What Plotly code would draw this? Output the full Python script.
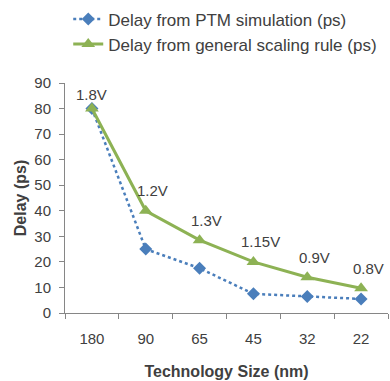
import plotly.graph_objects as go

categories = ["180", "90", "65", "45", "32", "22"]
ptm_delay = [80, 25, 17.5, 7.5, 6.5, 5.5]
scaling_delay = [80, 40, 28.5, 20, 14, 9.7]
voltage_labels = ["1.8V", "1.2V", "1.3V", "1.15V", "0.9V", "0.8V"]
y_ticks = [0, 10, 20, 30, 40, 50, 60, 70, 80, 90]

FONT = "Liberation Sans"
TXT = "#404040"

fig = go.Figure()
fig.add_trace(go.Scatter(
    x=categories, y=ptm_delay, name="Delay from PTM simulation (ps)",
    mode="lines+markers",
    line=dict(color="#4a7ebb", width=2.5, dash="dot"),
    marker=dict(symbol="diamond", size=10, color="#4a7ebb"),
))
fig.add_trace(go.Scatter(
    x=categories, y=scaling_delay, name="Delay from general scaling rule (ps)",
    mode="lines+markers",
    line=dict(color="#8db254", width=3),
    marker=dict(symbol="triangle-up", size=12, color="#8db254"),
))

for i, (v, t) in enumerate(zip(scaling_delay, voltage_labels)):
    fig.add_annotation(x=i, y=v, xref="x", yref="y", text=t, showarrow=False,
                       xshift=0 if i == 0 else 7, yshift=14 if i == 0 else 20,
                       font=dict(family=FONT, size=15, color=TXT))

fig.update_layout(
    width=390, height=381,
    margin=dict(l=65, r=2, t=83, b=68),
    plot_bgcolor="white", paper_bgcolor="white",
    font=dict(family=FONT, size=15, color=TXT),
    showlegend=True,
    legend=dict(x=0.01, y=1.355, xanchor="left", yanchor="top",
                font=dict(family=FONT, size=17, color=TXT),
                itemwidth=30,
                bgcolor="rgba(0,0,0,0)", tracegroupgap=0),
    xaxis=dict(
        type="category", categoryorder="array", categoryarray=categories,
        range=[-0.5, len(categories) - 0.5],
        showline=True, linecolor="#868686", linewidth=1,
        ticks="outside", tickson="boundaries", ticklen=5, tickcolor="#868686",
        showgrid=False, tickfont=dict(size=15, color=TXT), ticklabelstandoff=12,
        title=dict(text="<b>Technology Size (nm)</b>", font=dict(size=16, color=TXT), standoff=19),
    ),
    yaxis=dict(
        range=[0, 90], tickvals=y_ticks, showline=True, linecolor="#868686", linewidth=1,
        ticks="outside", ticklen=5, tickcolor="#868686", showgrid=False,
        zeroline=False, tickfont=dict(size=15, color=TXT), ticklabelstandoff=5,
        title=dict(text="<b>Delay (ps)</b>", font=dict(size=16, color=TXT), standoff=3),
    ),
)
fig.write_html("out.html")
